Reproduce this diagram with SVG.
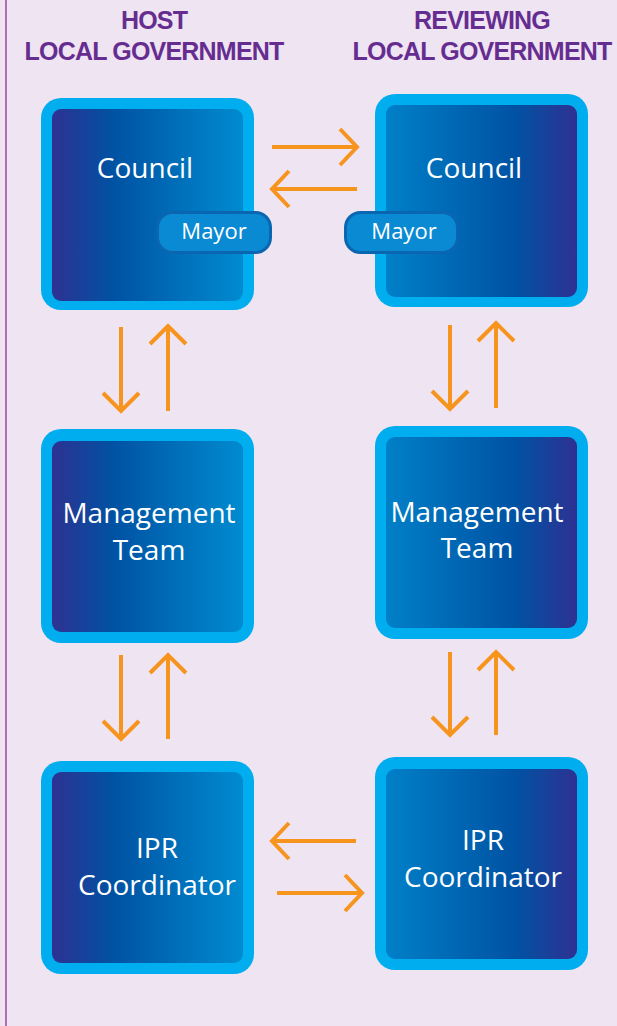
<svg xmlns="http://www.w3.org/2000/svg" width="617" height="1026" viewBox="0 0 617 1026">
  <defs>
    <linearGradient id="gradL" x1="0" y1="0" x2="1" y2="0">
      <stop offset="0" stop-color="#2E3192"/>
      <stop offset="0.32" stop-color="#0052A3"/>
      <stop offset="1" stop-color="#008BD0"/>
    </linearGradient>
    <linearGradient id="gradR" x1="0" y1="0" x2="1" y2="0">
      <stop offset="0" stop-color="#0080C8"/>
      <stop offset="0.68" stop-color="#0052A3"/>
      <stop offset="1" stop-color="#2E3192"/>
    </linearGradient>
    <style>
      .frame { fill: #00AEEF; }
      .innerL { fill: url(#gradL); }
      .innerR { fill: url(#gradR); }
      .label { font-family: "Open Sans", "Noto Sans", sans-serif; font-size: 28px; fill: #FFFFFF; text-anchor: middle; }
      .pill { fill: #0A8AD2; stroke: #0A66B0; stroke-width: 3; }
      .pilltext { font-family: "Open Sans", "Noto Sans", sans-serif; font-size: 22px; fill: #FFFFFF; text-anchor: middle; }
      .head { font-family: "Liberation Sans", Arial, sans-serif; font-weight: bold; font-size: 25px; fill: #662D91; text-anchor: middle; letter-spacing: -0.8px; }
      .arrow { fill: none; stroke: #F7941D; stroke-width: 4; stroke-linecap: butt; stroke-linejoin: miter; }
    </style>
  </defs>

  <!-- page background and left rule -->
  <rect x="0" y="0" width="617" height="1026" fill="#EFE4F2"/>
  <line x1="6" y1="0" x2="6" y2="1026" stroke="#A24FAB" stroke-width="1.6"/>

  <!-- column headings -->
  <g id="heading-host">
    <text class="head" x="154" y="29">HOST</text>
    <text class="head" x="154" y="60">LOCAL GOVERNMENT</text>
  </g>
  <g id="heading-reviewing">
    <text class="head" x="482" y="29">REVIEWING</text>
    <text class="head" x="482" y="60">LOCAL GOVERNMENT</text>
  </g>

  <!-- host column -->
  <g id="host-council">
    <rect class="frame" x="41" y="98" width="213" height="212" rx="20"/>
    <rect class="innerL" x="52" y="109" width="191" height="192" rx="9"/>
    <text class="label" x="145" y="178">Council</text>
  </g>
  <g id="host-mayor">
    <rect class="pill" x="157.5" y="212.5" width="113" height="40" rx="15"/>
    <text class="pilltext" x="214" y="239">Mayor</text>
  </g>
  <g id="host-management">
    <rect class="frame" x="41" y="429" width="213" height="214" rx="20"/>
    <rect class="innerL" x="52" y="441" width="191" height="191" rx="9"/>
    <text class="label" x="149" y="523">Management</text>
    <text class="label" x="149" y="560">Team</text>
  </g>
  <g id="host-ipr">
    <rect class="frame" x="41" y="761" width="213" height="213" rx="20"/>
    <rect class="innerL" x="52" y="772" width="191" height="191" rx="9"/>
    <text class="label" x="157" y="858">IPR</text>
    <text class="label" x="157" y="895">Coordinator</text>
  </g>

  <!-- reviewing column -->
  <g id="reviewing-council">
    <rect class="frame" x="375" y="94" width="213" height="213" rx="20"/>
    <rect class="innerR" x="386" y="105" width="191" height="192" rx="9"/>
    <text class="label" x="474" y="178">Council</text>
  </g>
  <g id="reviewing-mayor">
    <rect class="pill" x="345.5" y="212.5" width="112" height="40" rx="15"/>
    <text class="pilltext" x="404" y="239">Mayor</text>
  </g>
  <g id="reviewing-management">
    <rect class="frame" x="375" y="426" width="213" height="213" rx="20"/>
    <rect class="innerR" x="386" y="437" width="191" height="191" rx="9"/>
    <text class="label" x="477" y="522">Management</text>
    <text class="label" x="477" y="558">Team</text>
  </g>
  <g id="reviewing-ipr">
    <rect class="frame" x="375" y="757" width="213" height="213" rx="20"/>
    <rect class="innerR" x="386" y="769" width="191" height="190" rx="9"/>
    <text class="label" x="483" y="850">IPR</text>
    <text class="label" x="483" y="887">Coordinator</text>
  </g>

  <!-- connectors -->
  <g id="connectors">
    <!-- council to council -->
    <path class="arrow" d="M272 147 H356 M340 129 L357 147 L340 165"/>
    <path class="arrow" d="M357 189 H273 M289 171 L272 189 L289 207"/>
    <!-- host council / management -->
    <path class="arrow" d="M121 327 V410 M103 393 L121 411 L139 393"/>
    <path class="arrow" d="M168 411 V327 M150 344 L168 326 L186 344"/>
    <!-- host management / ipr -->
    <path class="arrow" d="M121 655 V738 M103 721 L121 739 L139 721"/>
    <path class="arrow" d="M168 739 V656 M150 673 L168 655 L186 673"/>
    <!-- reviewing council / management -->
    <path class="arrow" d="M450 325 V408 M432 391 L450 409 L468 391"/>
    <path class="arrow" d="M496 408 V324 M478 341 L496 323 L514 341"/>
    <!-- reviewing management / ipr -->
    <path class="arrow" d="M450 652 V734 M432 717 L450 735 L468 717"/>
    <path class="arrow" d="M496 735 V653 M478 670 L496 652 L514 670"/>
    <!-- ipr to ipr -->
    <path class="arrow" d="M356 841 H273 M289 823 L272 841 L289 859"/>
    <path class="arrow" d="M277 893 H361 M345 875 L362 893 L345 911"/>
  </g>
</svg>
